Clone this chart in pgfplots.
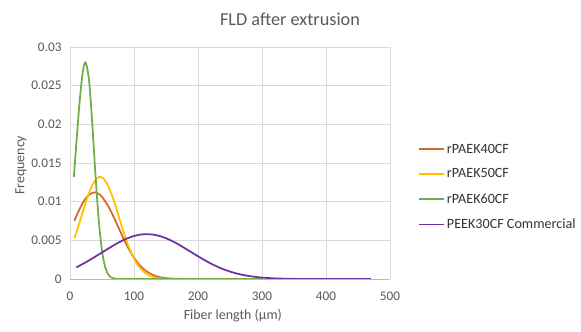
\documentclass[border=0pt]{standalone}
\usepackage{pgfplots}
\pgfplotsset{compat=1.18}
\usepackage{fontspec}
\setmainfont{Carlito}
\definecolor{cOrange}{HTML}{D2692B}
\definecolor{cYellow}{HTML}{FFC000}
\definecolor{cGreen}{HTML}{70AD47}
\definecolor{cPurple}{HTML}{7030A0}
\definecolor{cGrid}{HTML}{D9D9D9}
\definecolor{cText}{HTML}{595959}
\begin{document}
\begin{tikzpicture}
\path[use as bounding box] (0,0) rectangle (581bp,332bp);
\begin{axis}[
  at={(70bp,53bp)}, anchor=south west,
  scale only axis, width=320bp, height=232bp,
  xmin=0, xmax=500, ymin=0, ymax=0.03,
  xtick={0,100,200,300,400,500},
  ytick={0,0.005,0.01,0.015,0.02,0.025,0.03},
  /pgf/number format/assume math mode=true,
  yticklabel style={/pgf/number format/fixed,/pgf/number format/precision=3, xshift=-5bp},
  xticklabel style={yshift=-9bp},
  scaled y ticks=false,
  ticklabel style={font=\fontsize{13.3}{15}\selectfont, text=cText},
  major tick length=0pt,
  xmajorgrids, ymajorgrids,
  grid style={draw=cGrid, line width=0.75bp},
  separate axis lines,
  axis x line*=bottom, axis y line*=left,
  x axis line style={draw=gray!55, line width=0.75bp, -},
  y axis line style={draw=none},
  title={FLD after extrusion},
  title style={at={(axis description cs:0.6875,1.092)}, anchor=center, font=\fontsize{18.3}{20}\selectfont, text=cText},
  xlabel={Fiber length (µm)},
  ylabel={Frequency},
  xlabel style={at={(axis description cs:0.509,-0.158)}, anchor=center, font=\fontsize{14}{16}\selectfont, text=cText},
  ylabel style={at={(axis description cs:-0.153,0.49)}, anchor=center, font=\fontsize{14}{16}\selectfont, text=cText},
  legend style={at={(axis description cs:1.0875,0.592)}, anchor=north west, draw=none, fill=none,
    font=\fontsize{14.2}{16}\selectfont, text=black!80, row sep=10.2bp, inner sep=0pt},
  legend cell align=left,
  legend image code/.code={\draw[#1] (0bp,0bp) -- (25bp,0bp);},
  every axis plot/.append style={line width=1.75bp, no markers, smooth},
]
\addplot[cOrange] coordinates {
(7,0.00752)(10,0.00815)(15,0.00905)(20,0.00985)(25,0.01047)(30,0.01090)(35,0.01113)(38,0.0112)(40,0.01118)(45,0.01100)(50,0.01063)(60,0.00938)(70,0.00771)(80,0.00588)(90,0.00417)(100,0.00275)(110,0.00169)(120,0.00096)(130,0.00051)(140,0.00025)(150,0.00011)(160,0.00005)(170,0.00002)(180,0.00001)(200,0)
};
\addlegendentry{rPAEK40CF}
\addplot[cYellow] coordinates {
(7,0.00527)(12,0.00653)(17,0.00787)(22,0.00922)(27,0.01049)(32,0.01160)(37,0.01246)(42,0.01301)(47,0.0132)(52,0.01301)(57,0.01246)(62,0.01160)(67,0.01049)(72,0.00922)(77,0.00787)(82,0.00653)(87,0.00527)(92,0.00413)(102,0.00232)(112,0.00117)(122,0.00052)(132,0.00021)(142,0.00007)(152,0.00002)(162,0)(180,0)
};
\addlegendentry{rPAEK50CF}
\addplot[cGreen] coordinates {
(6,0.0132)(10,0.0176)(15,0.0229)(20,0.0268)(24.5,0.0280)(30,0.0255)(35,0.0198)(40,0.0132)(45,0.00753)(50,0.00367)(55,0.00153)(60,0.00055)(65,0.00017)(70,0.00004)(75,0.00001)(80,0)(100,0)(150,0)(200,0)(250,0)(300,0)
};
\addlegendentry{rPAEK60CF}
\addplot[cPurple] coordinates {
(10,0.0015)(20,0.00195)(30,0.00242)(40,0.00292)(50,0.00343)(60,0.00394)(70,0.00444)(80,0.00489)(90,0.00527)(100,0.00556)(110,0.00574)(120,0.0058)(130,0.00574)(140,0.00556)(150,0.00527)(160,0.00489)(170,0.00445)(180,0.00395)(190,0.00344)(200,0.00294)(210,0.00245)(220,0.00200)(230,0.00160)(240,0.00125)(250,0.00096)(260,0.00072)(270,0.00053)(280,0.00038)(290,0.00027)(300,0.00018)(320,0.00008)(340,0.00003)(360,0.00001)(380,0)(420,0)(470,0)
};
\addlegendentry{PEEK30CF Commercial}
\end{axis}
\end{tikzpicture}
\end{document}
